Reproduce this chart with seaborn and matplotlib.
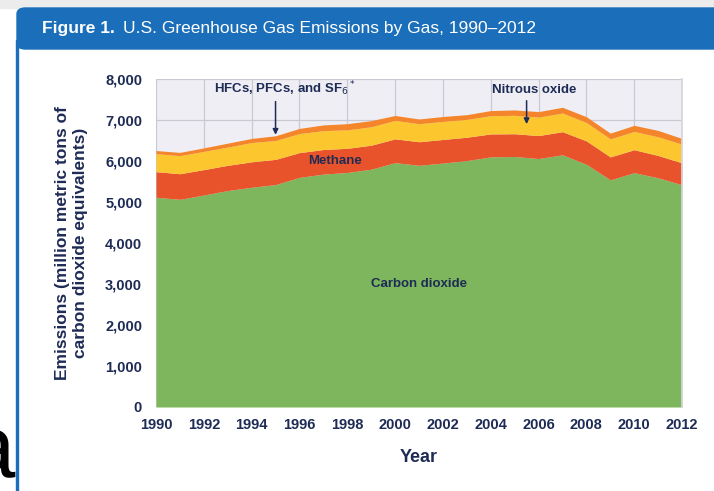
#!/usr/bin/env python
""" U.S. greenhouse gas emissions by gas, stacked area """

import pandas as pd
import seaborn as sns
import matplotlib
matplotlib.use("Agg")
import matplotlib.pyplot as plt
from matplotlib.patches import FancyBboxPatch, Rectangle

# Data (million metric tons CO2 equivalents)
years = list(range(1990, 2013))
co2 = [5115, 5065, 5170, 5280, 5360, 5425, 5600, 5680, 5720, 5800, 5960, 5895,
       5950, 6010, 6100, 6110, 6060, 6150, 5920, 5540, 5715, 5590, 5420]
methane = [625, 625, 620, 615, 620, 615, 605, 600, 590, 585, 580, 575,
           575, 570, 560, 555, 560, 565, 570, 560, 560, 545, 535]
nitrous = [440, 440, 445, 445, 470, 460, 465, 460, 450, 450, 450, 440,
           440, 435, 445, 450, 450, 455, 450, 440, 445, 455, 455]
hfcs = [75, 80, 85, 95, 100, 115, 125, 140, 150, 150, 120, 115,
        120, 115, 125, 130, 135, 140, 140, 140, 150, 155, 140]

gases = ["Carbon dioxide", "Methane", "Nitrous oxide", "HFCs, PFCs, and SF6"]
colors = ["#7db65c", "#e8532b", "#fcc62e", "#f4852a"]

x_ticks = list(range(1990, 2013, 2))
y_ticks = list(range(0, 8001, 1000))
y_ticklabels = ["{:,}".format(v) for v in y_ticks]


def main():
    """ Main function """
    df = pd.DataFrame({"Year": years, gases[0]: co2, gases[1]: methane,
                       gases[2]: nitrous, gases[3]: hfcs})

    sns.set_theme(style="whitegrid", rc={
        "axes.facecolor": "#eeeef4",
        "grid.color": "#c9c9d2",
        "grid.linewidth": 0.9,
    })
    plt.rcParams["font.family"] = ["Liberation Sans", "DejaVu Sans"]
    navy = "#1e2b55"

    fig = plt.figure(figsize=(7.14, 4.91), dpi=100)
    fig.patch.set_facecolor("white")

    # stray glyph at the bottom left of the screenshot
    fig.text(15 / 714, 1 - 477 / 491, "a", color="black", fontsize=64,
             ha="right", va="baseline", zorder=0)

    # screenshot frame: grey strip, blue title bar, left border line
    fig.patches.append(Rectangle((0, 1 - 8 / 491), 1, 8 / 491,
                                 transform=fig.transFigure,
                                 color="#ececec", zorder=0))
    fig.patches.append(FancyBboxPatch((17 / 714, 1 - 49 / 491),
                                      1.05, 41 / 491,
                                      boxstyle="round,pad=0,rounding_size=0.012",
                                      transform=fig.transFigure,
                                      color="#1b6fba", zorder=1))
    fig.patches.append(Rectangle((16 / 714, 0), 2 / 714, 1 - 40 / 491,
                                 transform=fig.transFigure,
                                 color="#1b6fba", zorder=3))

    t1 = fig.text(42 / 714, 1 - 29 / 491, "Figure 1.", color="white",
                  fontsize=12.5, fontweight="bold", va="center")
    renderer = fig.canvas.get_renderer()
    bb = t1.get_window_extent(renderer=renderer)
    fig.text((bb.x1 + 8) / 714, 1 - 29 / 491,
             "U.S. Greenhouse Gas Emissions by Gas, 1990\u20132012",
             color="white", fontsize=12.5, va="center")

    ax = fig.add_axes([156 / 714, 1 - 407 / 491, 526 / 714, 328 / 491])
    ax.stackplot(df["Year"], df[gases[0]], df[gases[1]], df[gases[2]],
                 df[gases[3]], colors=colors, linewidth=0, zorder=2)

    ax.set_xlim(1990, 2012)
    ax.set_ylim(0, 8000)
    ax.set_xticks(x_ticks)
    ax.set_yticks(y_ticks)
    ax.set_yticklabels(y_ticklabels)
    ax.tick_params(axis="both", length=0, labelsize=10.5, labelcolor=navy)
    ax.tick_params(axis="x", pad=8)
    ax.tick_params(axis="y", pad=10)
    for lab in ax.get_xticklabels() + ax.get_yticklabels():
        lab.set_fontweight("bold")
    for side in ["top", "left", "bottom"]:
        ax.spines[side].set_visible(False)
    ax.spines["right"].set_color("#d6d6dc")
    ax.set_axisbelow(True)

    ax.set_xlabel("Year", fontsize=13, fontweight="bold", color=navy,
                  labelpad=12)
    ax.set_ylabel("Emissions (million metric tons of\ncarbon dioxide equivalents)",
                  fontsize=12.5, fontweight="bold", color=navy, labelpad=12,
                  linespacing=1.25)

    # labels and arrows
    arrow = dict(arrowstyle="-|>", color=navy, lw=1.1, mutation_scale=8,
                 shrinkA=0, shrinkB=0)
    ax.text(1995.4, 7760, "HFCs, PFCs, and SF$_6$$^*$", ha="center",
            va="center", fontsize=9.5, fontweight="bold", color=navy, zorder=5)
    ax.annotate("", xy=(1995.0, 6640), xytext=(1995.0, 7450),
                arrowprops=arrow, zorder=5)
    ax.text(2005.8, 7740, "Nitrous oxide", ha="center", va="center",
            fontsize=9.5, fontweight="bold", color=navy, zorder=5)
    ax.annotate("", xy=(2005.5, 6900), xytext=(2005.5, 7470),
                arrowprops=arrow, zorder=5)
    ax.text(1997.5, 6010, "Methane", ha="center", va="center",
            fontsize=9.5, fontweight="bold", color=navy, zorder=5)
    ax.text(2001.0, 3005, "Carbon dioxide", ha="center", va="center",
            fontsize=9.5, fontweight="bold", color=navy, zorder=5)

    plt.savefig("out.png", dpi=100)
    plt.close(fig)


if __name__ == "__main__":
    main()
